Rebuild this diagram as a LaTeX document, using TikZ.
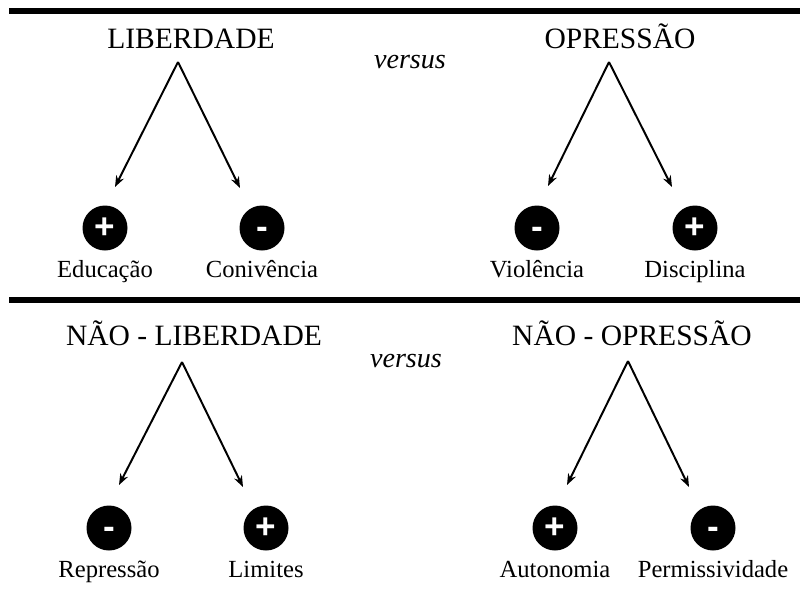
\documentclass[tikz,border=0pt]{standalone}
\usepackage{fontspec}
\setmainfont{Liberation Serif}
\newfontfamily\signfont{Liberation Sans}
\usetikzlibrary{arrows.meta}
\begin{document}
\begin{tikzpicture}[x=0.025cm,y=-0.025cm,
    heading/.style={anchor=base, font=\fontsize{21}{24}\selectfont},
    leaf/.style={anchor=base, font=\fontsize{17.5}{20}\selectfont},
    sign/.style={shape=circle, fill=black, minimum size=32pt, inner sep=0pt,
        text=white, text height=15pt, text depth=0pt,
        font=\signfont\bfseries\fontsize{25}{26}\selectfont},
    branch/.style={draw=black, line width=1.4pt, -{Stealth[length=8pt,width=6pt]}},
    rule/.style={draw=black, line width=3.6pt}]
    \useasboundingbox (0,0) rectangle (800,598);
    % rules
    \coordinate (r1a) at (9,11);   \coordinate (r1b) at (800,11);
    \coordinate (r2a) at (9,300);  \coordinate (r2b) at (800,300);
    \draw[rule] (r1a) -- (r1b);
    \draw[rule] (r2a) -- (r2b);
    % headings
    \node[heading] (liberdade) at (191,48) {LIBERDADE};
    \node[heading] (opressao) at (620,48) {OPRESSÃO};
    \node[heading] (naolib) at (194,345) {NÃO - LIBERDADE};
    \node[heading] (naoopr) at (632,345) {NÃO - OPRESSÃO};
    \node[heading, font=\fontsize{20}{24}\selectfont\itshape] (versus1) at (410,68) {versus};
    \node[heading, font=\fontsize{20}{24}\selectfont\itshape] (versus2) at (406,367) {versus};
    % signs and terms
    \foreach \n/\x/\y/\s/\t in {edu/105/228/+/Educação, con/262/228/-/Conivência,
        vio/537/228/-/Violência, dis/695/228/+/Disciplina,
        rep/109/528/-/Repressão, lim/266/528/+/Limites,
        aut/555/528/+/Autonomia, per/713/528/-/Permissividade}
        {\node[sign] (\n) at (\x,\y) {\s};
        \node[leaf] (\n-t) at (\x,\y+49.5) {\t};}
    % branches
    \foreach \g/\ax/\ay/\lx/\ly/\rx/\ry in {liberdade/178/62/115/187/240/188,
        opressao/609/62/548/186/672/187,
        naolib/182/362/119/485/243/487,
        naoopr/628/361/567/485/689/487}
        {\coordinate (\g-a) at (\ax,\ay);
        \coordinate (\g-l) at (\lx,\ly);
        \coordinate (\g-r) at (\rx,\ry);
        \draw[branch] (\g-a) -- (\g-l);
        \draw[branch] (\g-a) -- (\g-r);}
\end{tikzpicture}
\end{document}
